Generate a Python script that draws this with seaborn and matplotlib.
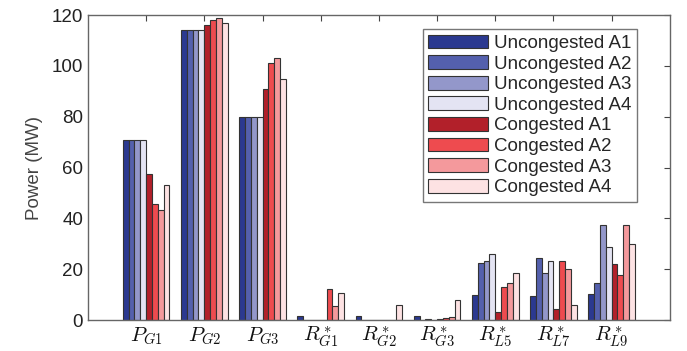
import numpy as np
import pandas as pd
import seaborn as sns
import matplotlib
import matplotlib.pyplot as plt

# categorias do eixo x
categorias = [r'$P_{G1}$', r'$P_{G2}$', r'$P_{G3}$', r'$R^*_{G1}$', r'$R^*_{G2}$',
              r'$R^*_{G3}$', r'$R^*_{L5}$', r'$R^*_{L7}$', r'$R^*_{L9}$']

# valores (MW)
unc_a1 = [71, 114, 80, 1.6, 1.6, 1.6, 9.8, 9.6, 10.2]
unc_a2 = [71, 114, 80, 0.2, 0.0, 0.0, 22.3, 24.5, 14.7]
unc_a3 = [71, 114, 80, 0.0, 0.0, 0.3, 23.2, 18.5, 37.3]
unc_a4 = [71, 114, 80, 0.0, 0.0, 0.0, 26.2, 23.4, 28.9]
con_a1 = [57.5, 116, 91, 0.0, 0.0, 0.5, 3.0, 4.5, 22.0]
con_a2 = [45.8, 118, 101, 12.3, 0.0, 0.8, 12.9, 23.2, 17.6]
con_a3 = [43.3, 119, 103, 5.5, 0.0, 1.1, 14.6, 20.3, 37.3]
con_a4 = [53.3, 117, 94.7, 10.8, 5.9, 8.0, 18.4, 5.8, 29.9]

nomes = ['Uncongested A1', 'Uncongested A2', 'Uncongested A3', 'Uncongested A4',
         'Congested A1', 'Congested A2', 'Congested A3', 'Congested A4']
valores = [unc_a1, unc_a2, unc_a3, unc_a4, con_a1, con_a2, con_a3, con_a4]
cores = ['#2b3990', '#5460ad', '#9397ca', '#e4e4f3',
         '#b2202a', '#ee4b4f', '#f4999c', '#fde2e3']

# montando o dataframe no formato longo
linhas = []
for nome, vals in zip(nomes, valores):
    for cat, v in zip(categorias, vals):
        linhas.append({'cat': cat, 'caso': nome, 'MW': v})
df = pd.DataFrame(linhas)

sns.set_style('white')
plt.rcParams['font.family'] = ['Liberation Sans', 'DejaVu Sans']
plt.rcParams['mathtext.fontset'] = 'cm'

fig, ax = plt.subplots(figsize=(6.87, 3.51), dpi=100)
fig.subplots_adjust(left=0.128, right=0.975, bottom=0.088, top=0.957)

sns.barplot(data=df, x='cat', y='MW', hue='caso', hue_order=nomes, order=categorias,
            palette=cores, width=0.8, edgecolor='#333333', linewidth=0.8,
            saturation=1, ax=ax)

ax.set_xlim(-1, 9)
ax.set_ylim(0, 120)
ax.set_yticks(range(0, 121, 20))
ax.set_xlabel('')
ax.set_ylabel('Power (MW)', fontsize=13.5, color='#444444', labelpad=6)
ax.tick_params(axis='y', labelsize=13.5, colors='#444444', direction='in', length=4,
               right=True, labelcolor='#222222')
ax.tick_params(axis='x', labelsize=15, direction='in', length=4, top=True,
               colors='#444444', labelcolor='#111111')
for s in ax.spines.values():
    s.set_visible(True)
    s.set_color('#666666')
    s.set_linewidth(1)

leg = ax.legend(loc='upper right', bbox_to_anchor=(0.96, 0.985), fontsize=13.5,
                frameon=True, fancybox=False, edgecolor='#555555',
                handlelength=3.2, handleheight=0.75, labelspacing=0.17,
                handletextpad=0.3, borderpad=0.3)
leg.get_frame().set_linewidth(1)

fig.savefig('out.png', dpi=100)
